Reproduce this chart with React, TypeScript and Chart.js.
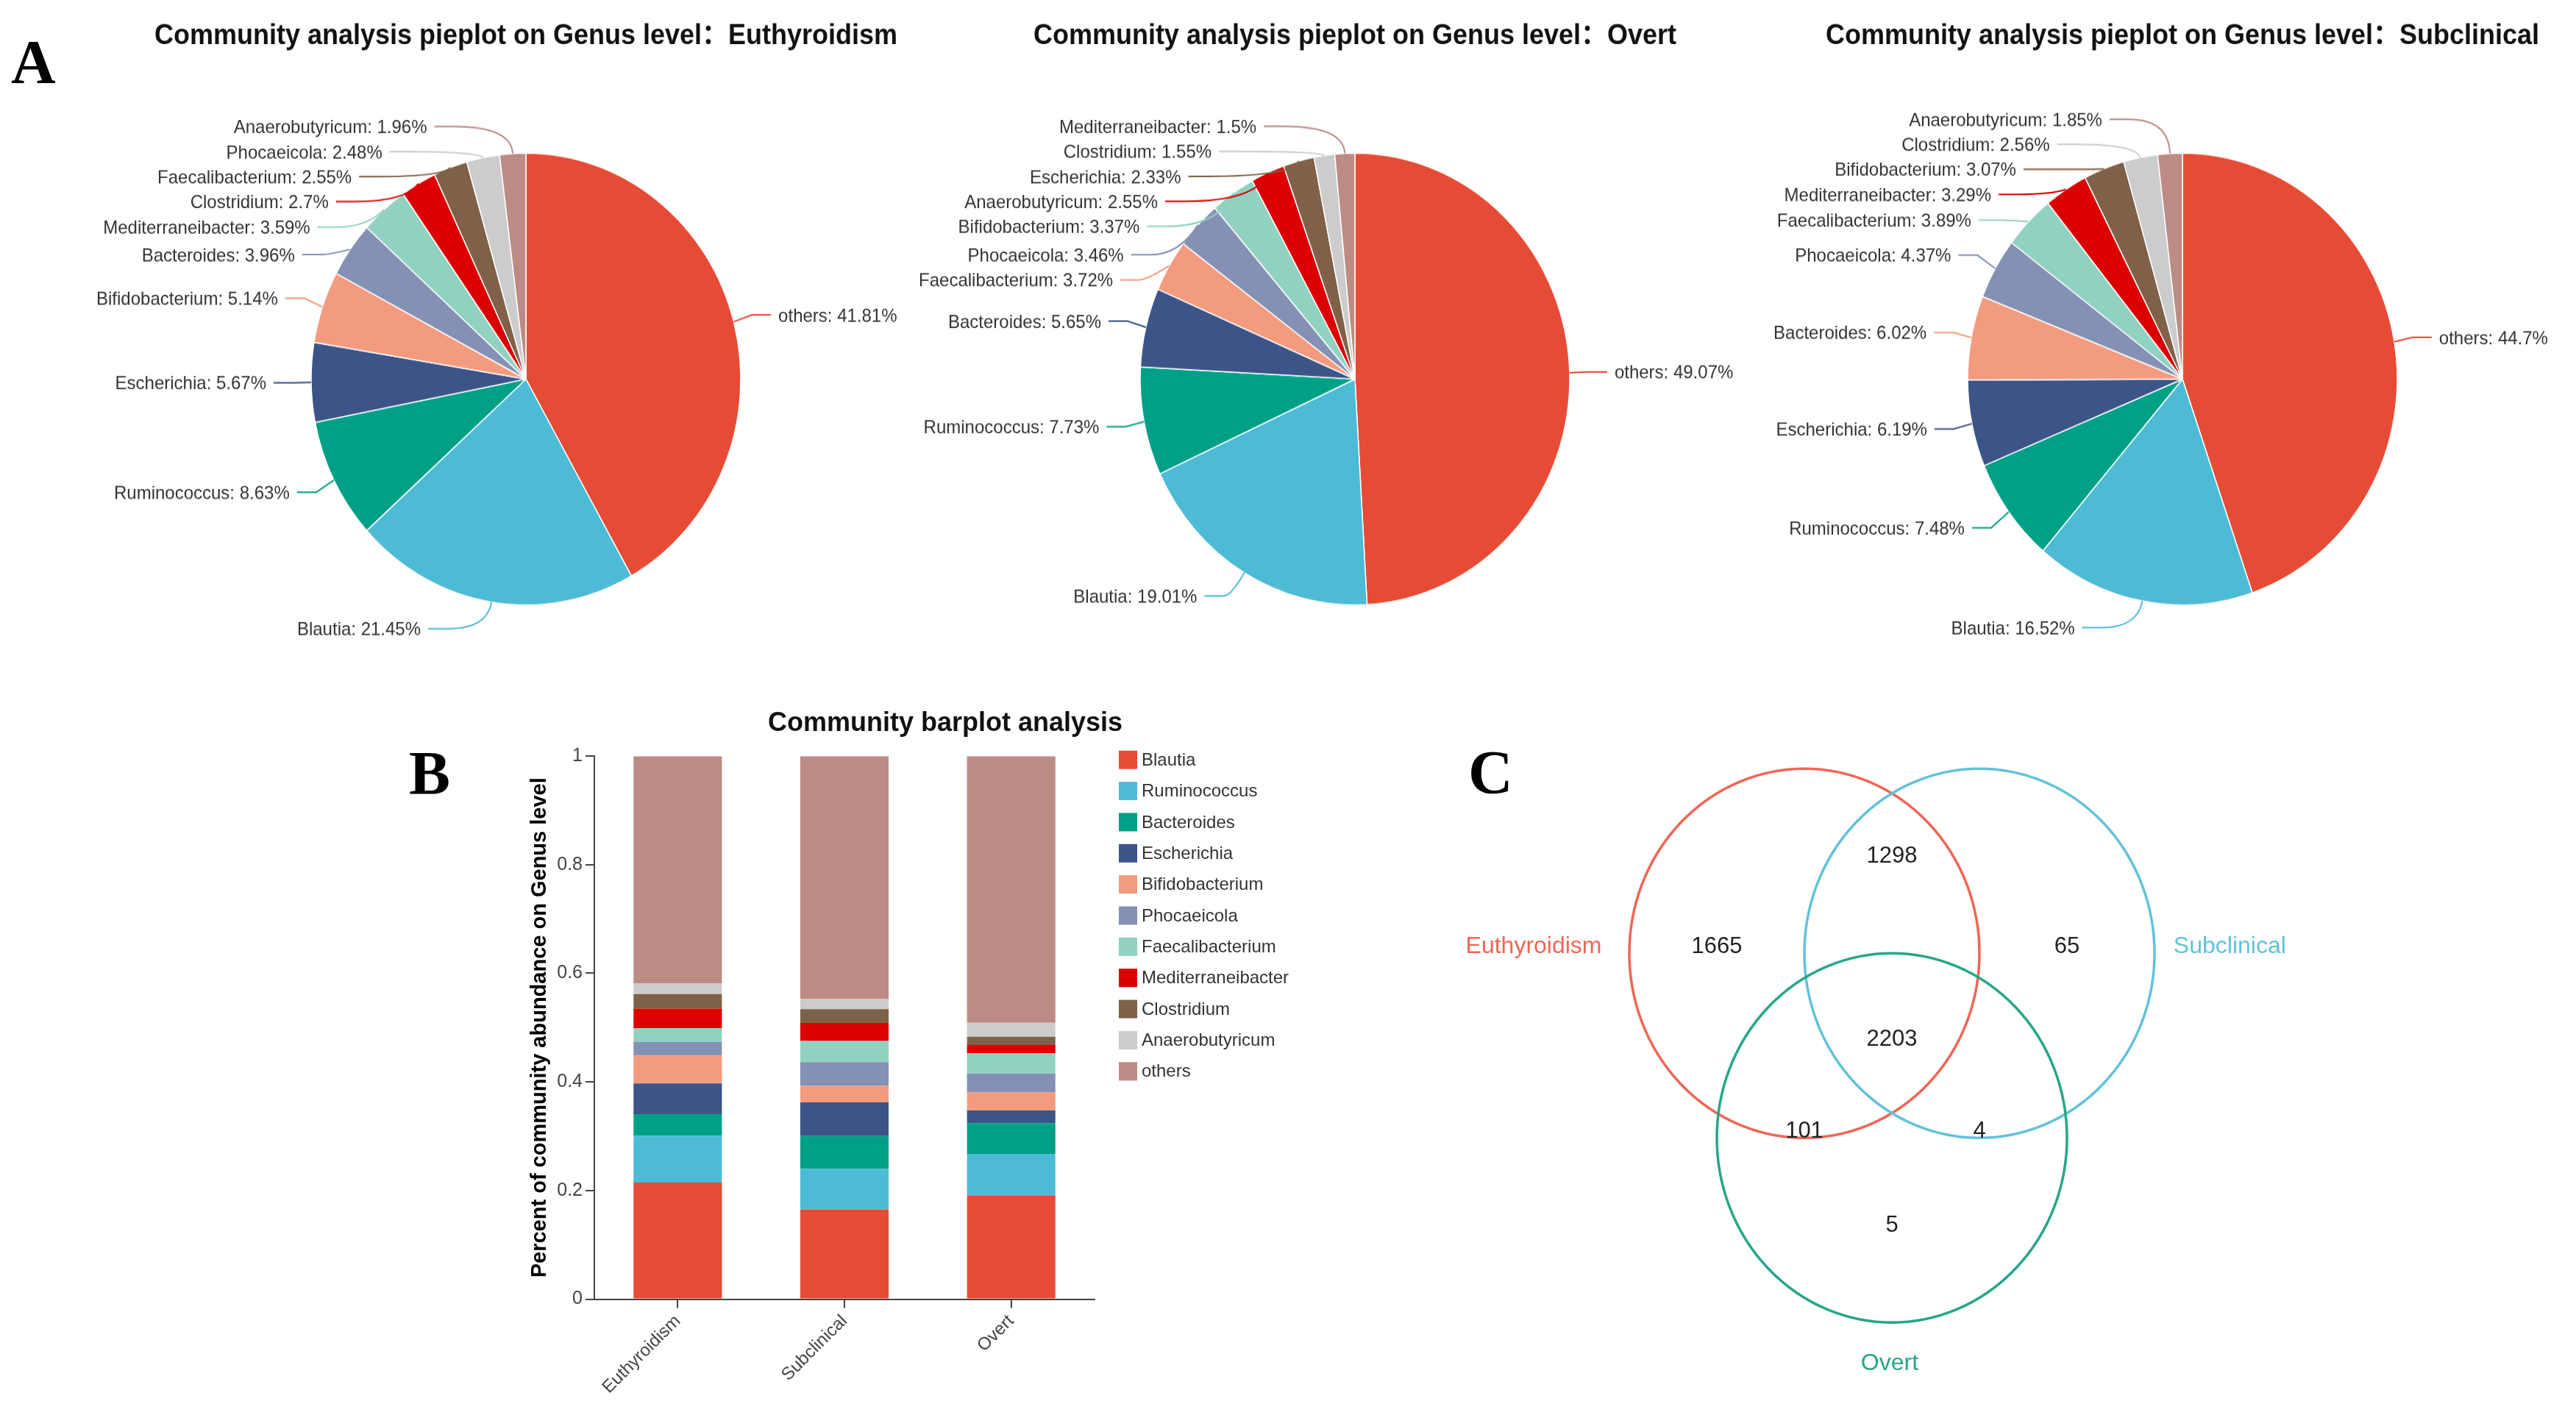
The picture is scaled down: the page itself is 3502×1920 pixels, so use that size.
import React, { useEffect, useRef } from 'react';
import { Chart, registerables } from 'chart.js';

Chart.register(...registerables);

const FONT = '"Liberation Sans", Arial, "Noto Sans CJK SC", sans-serif';
Chart.defaults.font.family = FONT;

// ---------------- Pie data ----------------
const pieTitlePrefix = 'Community analysis pieplot on Genus level：';
const pieGroups = ['Euthyroidism', 'Overt', 'Subclinical'];

const euthyroidismGenera = ['others', 'Blautia', 'Ruminococcus', 'Escherichia', 'Bifidobacterium', 'Bacteroides', 'Mediterraneibacter', 'Clostridium', 'Faecalibacterium', 'Phocaeicola', 'Anaerobutyricum'];
const euthyroidismValues = [41.81, 21.45, 8.63, 5.67, 5.14, 3.96, 3.59, 2.7, 2.55, 2.48, 1.96];

const overtGenera = ['others', 'Blautia', 'Ruminococcus', 'Bacteroides', 'Faecalibacterium', 'Phocaeicola', 'Bifidobacterium', 'Anaerobutyricum', 'Escherichia', 'Clostridium', 'Mediterraneibacter'];
const overtValues = [49.07, 19.01, 7.73, 5.65, 3.72, 3.46, 3.37, 2.55, 2.33, 1.55, 1.5];

const subclinicalGenera = ['others', 'Blautia', 'Ruminococcus', 'Escherichia', 'Bacteroides', 'Phocaeicola', 'Faecalibacterium', 'Mediterraneibacter', 'Bifidobacterium', 'Clostridium', 'Anaerobutyricum'];
const subclinicalValues = [44.7, 16.52, 7.48, 6.19, 6.02, 4.37, 3.89, 3.29, 3.07, 2.56, 1.85];

// colours by rank (style)
const pieColors = ['#E64B35', '#4DBBD5', '#00A087', '#3C5488', '#F39B7F', '#8491B4', '#91D1C2', '#DC0000', '#7E6148', '#CCCCCC', '#BC8B83'];

// ---------------- Bar data ----------------
const barTitle = 'Community barplot analysis';
const barYTitle = 'Percent of community abundance on Genus level';
const barGroups = ['Euthyroidism', 'Subclinical', 'Overt'];
const barGenera = ['Blautia', 'Ruminococcus', 'Bacteroides', 'Escherichia', 'Bifidobacterium', 'Phocaeicola', 'Faecalibacterium', 'Mediterraneibacter', 'Clostridium', 'Anaerobutyricum', 'others'];
const blautia = [0.2145, 0.1652, 0.1901];
const ruminococcus = [0.0863, 0.0748, 0.0773];
const bacteroides = [0.0396, 0.0602, 0.0565];
const escherichia = [0.0567, 0.0619, 0.0233];
const bifidobacterium = [0.0514, 0.0307, 0.0337];
const phocaeicola = [0.0248, 0.0437, 0.0346];
const faecalibacterium = [0.0255, 0.0389, 0.0372];
const mediterraneibacter = [0.0359, 0.0329, 0.015];
const clostridium = [0.027, 0.0256, 0.0155];
const anaerobutyricum = [0.0196, 0.0185, 0.0255];
const others = [0.4181, 0.447, 0.4907];
const barTicks = [0, 0.2, 0.4, 0.6, 0.8, 1];
const barTickLabels = ['0', '0.2', '0.4', '0.6', '0.8', '1'];
const barColors = ['#E64B35', '#4DBBD5', '#00A087', '#3C5488', '#F39B7F', '#8491B4', '#91D1C2', '#DC0000', '#7E6148', '#CCCCCC', '#BC8B83'];

// ---------------- Venn data ----------------
const vennSets = ['Euthyroidism', 'Subclinical', 'Overt'];
const vennCenterX = [0, 1, 0.5];
const vennCenterY = [0, 0, -1];
const vennRadius = [1, 1, 1];
const vennLabelX = [-1.546, 2.43, 0.487];
const vennLabelY = [0, 0, -2.26];
const vennCounts = [1665, 1298, 65, 2203, 101, 4, 5];
const vennCountX = [-0.5, 0.5, 1.5, 0.5, 0, 1, 0.5];
const vennCountY = [0, 0.49, 0, -0.5, -1.0, -1.0, -1.51];
const vennColors = ['#EF6656', '#62C2D9', '#26A689'];

// ---------------- layout constants ----------------
const PIE_W = 1200;
const PIE_H = 860;
const PIE_CY = 490;
const PIE_RADIUS = 292;
const PIE_STRETCH = 1.052;
const PIE_TITLE_Y = 46.6;
const PIE_CX = [715, 1841.5, 2967];
const LINE_LEN1 = 35;
const LINE_LEN2 = 26;
const TEXT_GAP = 10;
const LABEL_RADIUS_OFFSET = 61;
const LABEL_HEIGHT = 32.3;

const BAR_LEFT = 640;
const BAR_TOP = 940;
const BAR_W = 1290;
const BAR_H = 980;

const VX = 238;
const VY = 251;
const V_LEFT = 1977;
const V_TOP = 995;
const V_W = 1190;
const V_H = 904;

function adjustSide(list: any[], h: number, minY: number, maxY: number) {
  list.sort((a, b) => a.y - b.y);
  const n = list.length;
  if (n < 2) return;
  const shiftUp = (end: number, delta: number) => {
    for (let j = end; j >= 0; j--) {
      if (list[j].y - delta < minY) break;
      list[j].y -= delta;
      if (j > 0 && list[j].y > list[j - 1].y + h) break;
    }
  };
  const shiftDown = (start: number, end: number, delta: number) => {
    for (let j = start; j < end; j++) {
      if (list[j].y + delta > maxY) break;
      list[j].y += delta;
      if (j > start && j + 1 < end && list[j + 1].y > list[j].y + h) {
        shiftUp(j, delta / 2);
        return;
      }
    }
    shiftUp(end - 1, delta / 2);
  };
  let lastY = -Infinity;
  for (let i = 0; i < n; i++) {
    const delta = list[i].y - lastY;
    if (delta < 0) shiftDown(i, n, -delta);
    lastY = list[i].y + h;
  }
}

function calcDx(it: any) {
  const R = it.r + LABEL_RADIUS_OFFSET;
  const dy = Math.abs(it.y - it.cy);
  if (dy < R) return Math.sqrt(R * R - dy * dy);
  return (it.r + LINE_LEN1) * Math.abs(it.nx) + LINE_LEN2 + TEXT_GAP;
}

const pieLabelPlugin = {
  id: 'pieLabels',
  afterDatasetsDraw(chart: any, _args: any, opts: any) {
    const ctx = chart.ctx as CanvasRenderingContext2D;
    const meta = chart.getDatasetMeta(0);
    const ds = chart.data.datasets[0];
    const labels = chart.data.labels;
    const items = meta.data.map((arc: any, i: number) => {
      const p = arc.getProps(['x', 'y', 'startAngle', 'endAngle', 'outerRadius'], true);
      const mid = (p.startAngle + p.endAngle) / 2;
      const nx = Math.cos(mid);
      const ny = Math.sin(mid);
      return {
        cx: p.x, cy: p.y, r: p.outerRadius, nx, ny, dir: nx < 0 ? -1 : 1,
        y: p.y + (p.outerRadius + LINE_LEN1) * ny,
        dx: 0,
        text: `${labels[i]}: ${ds.data[i]}%`,
        color: ds.backgroundColor[i],
      };
    });
    [-1, 1].forEach((dir) => {
      const side = items.filter((it: any) => it.dir === dir);
      adjustSide(side, LABEL_HEIGHT, 12, chart.height - 12);
      const up = side.filter((it: any) => it.y < it.cy).sort((a: any, b: any) => a.y - b.y);
      const down = side.filter((it: any) => it.y >= it.cy).sort((a: any, b: any) => a.y - b.y);
      let last = 0;
      up.forEach((it: any) => {
        let dx = calcDx(it);
        if (dx <= last) dx = last + 10;
        it.dx = dx;
        last = dx;
      });
      last = Infinity;
      down.forEach((it: any) => {
        let dx = calcDx(it);
        if (dx >= last) dx = last - 10;
        it.dx = dx;
        last = dx;
      });
    });

    ctx.save();
    items.forEach((it: any) => {
      const ex = it.cx + it.r * it.nx;
      const ey = it.cy + it.r * it.ny;
      const tx = it.cx + it.dir * it.dx;
      const x3 = tx - it.dir * TEXT_GAP;
      const x2 = x3 - it.dir * LINE_LEN2;
      let cpx = ex + it.nx * LINE_LEN1;
      cpx = it.dir < 0 ? Math.max(cpx, x2) : Math.min(cpx, x2);
      ctx.beginPath();
      ctx.moveTo(ex, ey);
      ctx.quadraticCurveTo(cpx, it.y, x2, it.y);
      ctx.lineTo(x3, it.y);
      ctx.lineWidth = 2;
      ctx.strokeStyle = it.color;
      ctx.stroke();
      ctx.font = `24px ${FONT}`;
      ctx.fillStyle = '#333333';
      ctx.textAlign = it.dir < 0 ? 'right' : 'left';
      ctx.textBaseline = 'middle';
      ctx.fillText(it.text, tx, it.y + 2);
    });
    ctx.font = `bold 36px ${FONT}`;
    ctx.fillStyle = '#111111';
    ctx.textAlign = 'center';
    ctx.textBaseline = 'middle';
    ctx.fillText(opts.title, chart.width / 2, PIE_TITLE_Y);
    ctx.restore();
  },
};

const barDecorPlugin = {
  id: 'barDecor',
  afterDraw(chart: any) {
    const ctx = chart.ctx as CanvasRenderingContext2D;
    const area = chart.chartArea;
    ctx.save();
    ctx.font = `24px ${FONT}`;
    ctx.textAlign = 'left';
    ctx.textBaseline = 'middle';
    chart.data.datasets.forEach((ds: any, i: number) => {
      const x = area.right + 33;
      const y = area.top - 7.3 + i * 42.36;
      ctx.fillStyle = ds.backgroundColor;
      ctx.fillRect(x, y, 25, 25);
      ctx.fillStyle = '#333333';
      ctx.fillText(ds.label, x + 31, y + 13.5);
    });
    ctx.font = `bold 36px ${FONT}`;
    ctx.fillStyle = '#111111';
    ctx.textAlign = 'center';
    ctx.fillText(barTitle, chart.width / 2, 44);
    ctx.restore();
  },
};

const vennPlugin = {
  id: 'venn',
  afterDatasetsDraw(chart: any) {
    const ctx = chart.ctx as CanvasRenderingContext2D;
    const xs = chart.scales.x;
    const ys = chart.scales.y;
    ctx.save();
    vennSets.forEach((_name, k) => {
      const px = xs.getPixelForValue(vennCenterX[k]);
      const py = ys.getPixelForValue(vennCenterY[k]);
      const rx = Math.abs(xs.getPixelForValue(vennCenterX[k] + vennRadius[k]) - px);
      const ry = Math.abs(ys.getPixelForValue(vennCenterY[k] + vennRadius[k]) - py);
      ctx.beginPath();
      ctx.ellipse(px, py, rx, ry, 0, 0, Math.PI * 2);
      ctx.lineWidth = 3.5;
      ctx.strokeStyle = vennColors[k];
      ctx.stroke();
    });
    ctx.textAlign = 'center';
    ctx.textBaseline = 'alphabetic';
    ctx.font = `32px ${FONT}`;
    vennSets.forEach((name, k) => {
      ctx.fillStyle = vennColors[k];
      ctx.fillText(name, xs.getPixelForValue(vennLabelX[k]), ys.getPixelForValue(vennLabelY[k]));
    });
    const meta = chart.getDatasetMeta(0);
    ctx.font = `31px ${FONT}`;
    ctx.fillStyle = '#222222';
    meta.data.forEach((pt: any, i: number) => {
      ctx.fillText(String(vennCounts[i]), pt.x, pt.y);
    });
    ctx.restore();
  },
};

function makePie(canvas: HTMLCanvasElement, group: string, genera: string[], values: number[]) {
  return new Chart(canvas, {
    type: 'pie',
    data: {
      labels: genera,
      datasets: [{
        data: values,
        backgroundColor: pieColors,
        borderColor: '#ffffff',
        borderWidth: 1.5,
        hoverOffset: 0,
        radius: PIE_RADIUS,
      } as any],
    },
    options: {
      responsive: false,
      animation: false,
      devicePixelRatio: 1,
      events: [],
      layout: { padding: { left: PIE_W / 2 - 300, right: PIE_W / 2 - 300, top: PIE_CY - 300, bottom: PIE_H - PIE_CY - 300 } },
      plugins: {
        legend: { display: false },
        tooltip: { enabled: false },
        pieLabels: { title: pieTitlePrefix + group },
      } as any,
    },
    plugins: [pieLabelPlugin],
  });
}

export default function App() {
  const pie1 = useRef<HTMLCanvasElement>(null);
  const pie2 = useRef<HTMLCanvasElement>(null);
  const pie3 = useRef<HTMLCanvasElement>(null);
  const bar = useRef<HTMLCanvasElement>(null);
  const venn = useRef<HTMLCanvasElement>(null);

  useEffect(() => {
    document.body.style.margin = '0';
    const charts: Chart[] = [];
    charts.push(makePie(pie1.current!, pieGroups[0], euthyroidismGenera, euthyroidismValues));
    charts.push(makePie(pie2.current!, pieGroups[1], overtGenera, overtValues));
    charts.push(makePie(pie3.current!, pieGroups[2], subclinicalGenera, subclinicalValues));

    const barSeries = [blautia, ruminococcus, bacteroides, escherichia, bifidobacterium, phocaeicola, faecalibacterium, mediterraneibacter, clostridium, anaerobutyricum, others];
    const AXIS = '#444444';
    charts.push(new Chart(bar.current!, {
      type: 'bar',
      data: {
        labels: barGroups,
        datasets: barGenera.map((g, i) => ({
          label: g,
          data: barSeries[i],
          backgroundColor: barColors[i],
          borderWidth: 0,
          barPercentage: 0.53,
          categoryPercentage: 1.0,
          stack: 's',
        })),
      },
      options: {
        responsive: false,
        animation: false,
        devicePixelRatio: 1,
        events: [],
        layout: { padding: { left: 68, top: 88, right: 442, bottom: 13.5 } },
        plugins: { legend: { display: false }, tooltip: { enabled: false } },
        scales: {
          x: {
            stacked: true,
            offset: true,
            grid: { offset: false, drawOnChartArea: false, drawTicks: true, tickLength: 12, color: AXIS, lineWidth: 2 },
            border: { display: true, color: AXIS, width: 2 },
            ticks: { minRotation: 45, maxRotation: 45, padding: 4, color: '#444444', font: { size: 24, family: FONT } },
            afterFit: (s: any) => { s.height = 140; },
          },
          y: {
            stacked: true,
            min: barTicks[0],
            max: barTicks[barTicks.length - 1],
            afterBuildTicks: (s: any) => { s.ticks = barTicks.map((v) => ({ value: v })); },
            ticks: {
              padding: 4,
              color: '#444444',
              font: { size: 25, family: FONT },
              callback: (_v: any, i: number) => barTickLabels[i],
            },
            grid: { drawOnChartArea: false, drawTicks: true, tickLength: 12, color: AXIS, lineWidth: 2 },
            border: { display: true, color: AXIS, width: 2 },
            title: { display: true, text: barYTitle, color: '#000000', font: { size: 29, weight: 'bold', family: FONT }, padding: { top: 8.6, bottom: 0 } },
            afterFit: (s: any) => { s.width = 100; },
          },
        } as any,
      },
      plugins: [barDecorPlugin],
    }));

    charts.push(new Chart(venn.current!, {
      type: 'scatter',
      data: {
        datasets: [{
          data: vennCountX.map((x, i) => ({ x, y: vennCountY[i] })),
          pointRadius: 0,
          showLine: false,
        }],
      },
      options: {
        responsive: false,
        animation: false,
        devicePixelRatio: 1,
        events: [],
        layout: { padding: 0 },
        plugins: { legend: { display: false }, tooltip: { enabled: false } },
        scales: {
          x: { type: 'linear', display: false, min: -2, max: (V_W - 2 * VX) / VX },
          y: { type: 'linear', display: false, min: 1.2 - V_H / VY, max: 1.2 },
        },
      },
      plugins: [vennPlugin],
    }));

    return () => charts.forEach((c) => c.destroy());
  }, []);

  const letter = (ch: string, left: number, top: number): React.ReactElement => (
    <div style={{ position: 'absolute', left, top, fontFamily: '"Liberation Serif", "Times New Roman", serif', fontWeight: 'bold', fontSize: 84, lineHeight: 1, color: '#000' }}>{ch}</div>
  );

  const pieRefs = [pie1, pie2, pie3];

  return (
    <div style={{ position: 'absolute', left: 0, top: 0, width: 3502, height: 1920, overflow: 'hidden', background: '#ffffff' }}>
      {pieRefs.map((ref, i) => (
        <div key={i} style={{ position: 'absolute', left: PIE_CX[i] - PIE_W / 2, top: 0, width: PIE_W, height: PIE_H, transform: `scaleY(${PIE_STRETCH})`, transformOrigin: '0 0' }}>
          <canvas ref={ref} width={PIE_W} height={PIE_H} style={{ width: PIE_W, height: PIE_H, display: 'block' }} />
        </div>
      ))}
      <canvas ref={bar} width={BAR_W} height={BAR_H} style={{ position: 'absolute', left: BAR_LEFT, top: BAR_TOP, width: BAR_W, height: BAR_H, display: 'block' }} />
      <canvas ref={venn} width={V_W} height={V_H} style={{ position: 'absolute', left: V_LEFT, top: V_TOP, width: V_W, height: V_H, display: 'block' }} />
      {letter('A', 15, 43)}
      {letter('B', 556, 1010)}
      {letter('C', 1996, 1009)}
    </div>
  );
}
